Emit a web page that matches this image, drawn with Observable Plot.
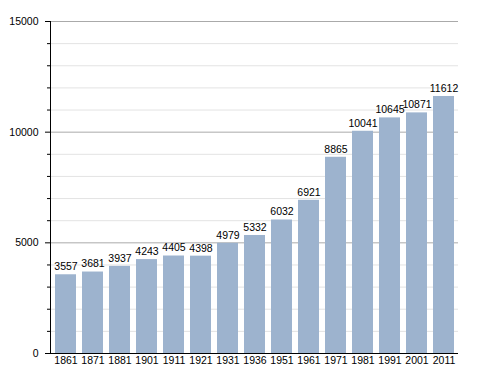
<!DOCTYPE html>
<html>
<head>
<meta charset="utf-8">
<script src="https://cdn.jsdelivr.net/npm/d3@7"></script>
<script src="https://cdn.jsdelivr.net/npm/@observablehq/plot@0.6"></script>
<style>
  html, body { margin: 0; padding: 0; background: #fff; }
  svg { display: block; }
</style>
</head>
<body>
<div id="chart"></div>
<script>
const years = ["1861","1871","1881","1901","1911","1921","1931","1936","1951","1961","1971","1981","1991","2001","2011"];
const population = [3557,3681,3937,4243,4405,4398,4979,5332,6032,6921,8865,10041,10645,10871,11612];
const majorTicks = [0, 5000, 10000, 15000];
const minorTicks = [1000,2000,3000,4000,6000,7000,8000,9000,11000,12000,13000,14000];

const data = years.map((y, i) => ({year: y, value: population[i]}));

const chart = Plot.plot({
  width: 488,
  height: 373,
  marginLeft: 50,
  marginRight: 30,
  marginTop: 21,
  marginBottom: 20,
  style: {fontFamily: "'Liberation Sans', Arial, sans-serif", fontSize: "10.5px", color: "#000", background: "#fff"},
  x: {domain: years, paddingInner: 0.24, paddingOuter: 0.02, label: null},
  y: {domain: [0, 15000], label: null},
  marks: [
    Plot.gridY(minorTicks, {stroke: "#e3e3e3", strokeOpacity: 1}),
    Plot.gridY([5000, 10000, 15000], {stroke: "#aaaaaa", strokeOpacity: 1}),
    Plot.barY(data, {x: "year", y: "value", fill: "#9db3ce"}),
    Plot.text(data, {x: "year", y: "value", text: d => String(d.value), dy: -8, fill: "#000", fontSize: 10.5}),
    Plot.axisY(minorTicks, {tickSize: 3, text: null, stroke: "#000"}),
    Plot.axisY(majorTicks, {tickSize: 5, tickPadding: 7, stroke: "#000", fill: "#000", fontSize: 10.5, label: null, tickFormat: d => String(d)}),
    Plot.axisX({tickSize: 0, tickPadding: 3, fill: "#000", fontSize: 10.5, label: null}),
    Plot.ruleY([0], {stroke: "#000"}),
    Plot.frame({anchor: "left", stroke: "#000"})
  ]
});
document.getElementById("chart").append(chart);
</script>
</body>
</html>
